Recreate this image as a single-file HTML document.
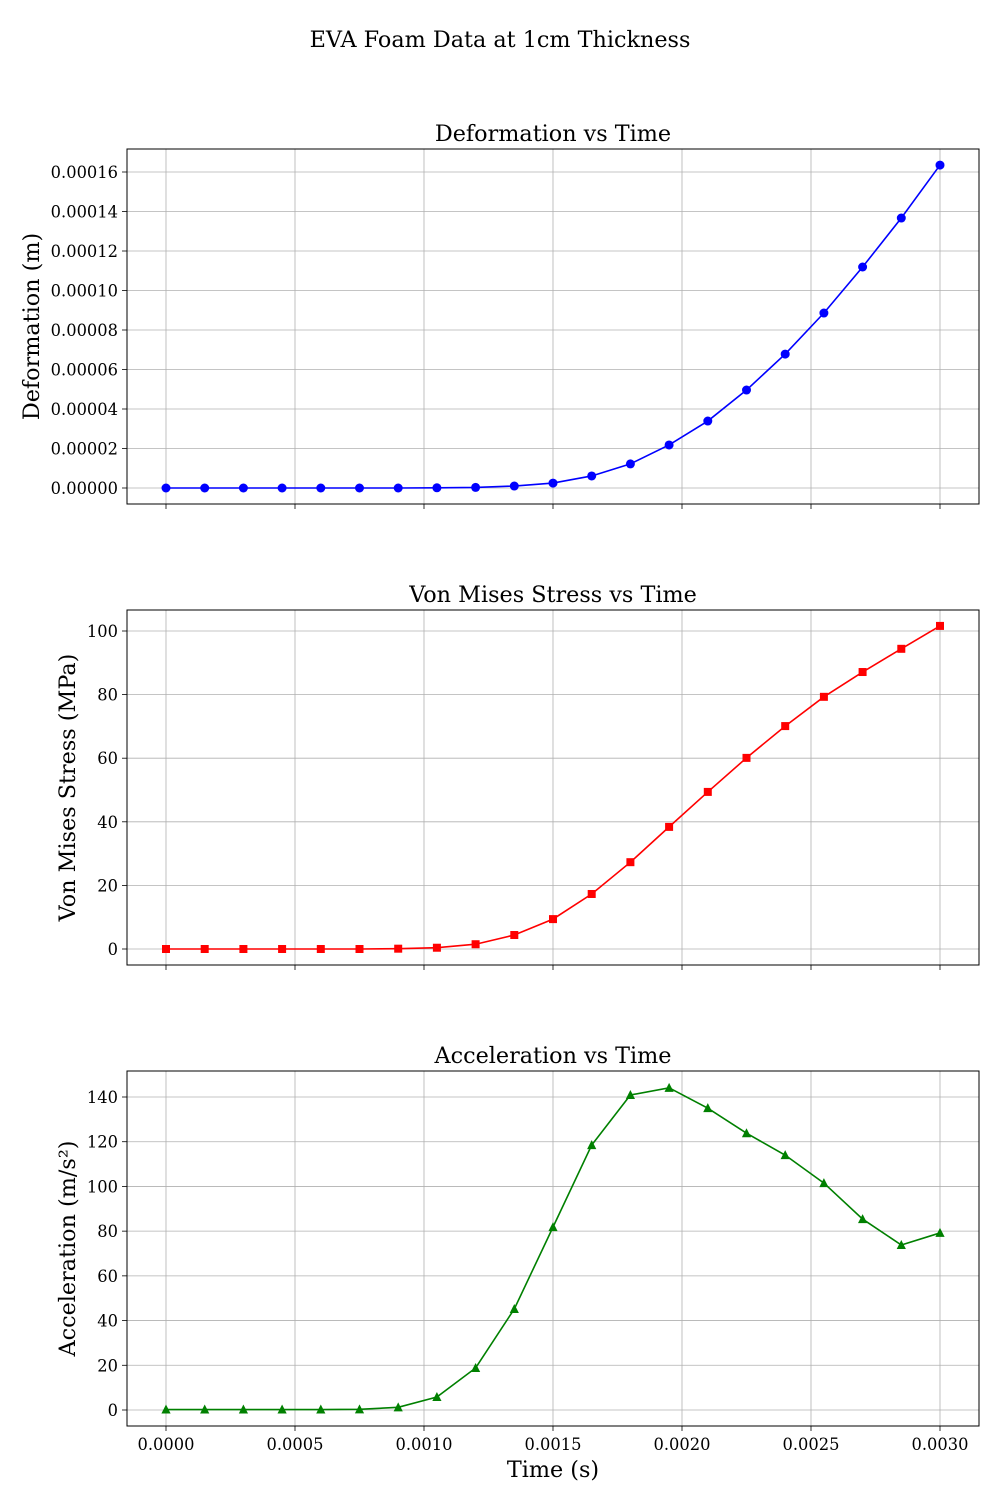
<!DOCTYPE html>
<html><head><meta charset="utf-8"><style>
body{margin:0;background:#fff;}
svg text{font-family:"DejaVu Serif","Liberation Serif",serif;fill:#000;}
</style></head><body>
<svg id="chart" width="1000" height="1500" viewBox="0 0 1000 1500" xmlns="http://www.w3.org/2000/svg">
<text x="500" y="47" text-anchor="middle" font-size="22.3">EVA Foam Data at 1cm Thickness</text>
</svg>
<script>
const times = [0,0.00015,0.0003,0.00045,0.0006,0.00075,0.0009,0.00105,0.0012,0.00135,0.0015,0.00165,0.0018,0.00195,0.0021,0.00225,0.0024,0.00255,0.0027,0.00285,0.003];
const deformation = [0,0,0,0,0,0,0,0.0000001,0.0000003,0.000001,0.0000025,0.0000061,0.0000122,0.0000218,0.0000339,0.0000496,0.0000678,0.0000886,0.0001119,0.0001367,0.0001635];
const stress = [0,0,0,0,0,0,0.1,0.4,1.5,4.4,9.4,17.3,27.3,38.4,49.4,60.1,70.1,79.3,87.1,94.4,101.6];
const accel = [0.2,0.2,0.2,0.2,0.2,0.3,1.2,5.8,18.8,45.2,81.8,118.5,140.9,144.1,135,123.8,114,101.5,85.4,73.8,79.2];
const xTicks = [0,0.0005,0.001,0.0015,0.002,0.0025,0.003];
const xTickLabels = ["0.0000","0.0005","0.0010","0.0015","0.0020","0.0025","0.0030"];
const defTicks = [0,0.00002,0.00004,0.00006,0.00008,0.0001,0.00012,0.00014,0.00016];
const defTickLabels = ["0.00000","0.00002","0.00004","0.00006","0.00008","0.00010","0.00012","0.00014","0.00016"];
const stressTicks = [0,20,40,60,80,100];
const accelTicks = [0,20,40,60,80,100,120,140];

const NS="http://www.w3.org/2000/svg";
const svg=document.getElementById('chart');
function mk(tag,attrs,parent){const e=document.createElementNS(NS,tag);for(const k in attrs)e.setAttribute(k,attrs[k]);(parent||svg).appendChild(e);return e;}
const L=127,R=979;
const xs=t=>166+(t/0.003)*774;
const TF=16.3, BF=22.3;

function panel(cfg){
  const g=mk('g',{});
  
  
  const T=cfg.top,B=cfg.top+355;
  const ys=v=>cfg.y0px+(v-cfg.v0)*(cfg.y1px-cfg.y0px)/(cfg.v1-cfg.v0);
  xTicks.forEach((t,i)=>{
    const l=mk('line',{x1:xs(t),x2:xs(t),y1:T,y2:B,stroke:'#b0b0b0','stroke-width':0.8},g);
    
    
    mk('line',{x1:xs(t),x2:xs(t),y1:B,y2:B+5,stroke:'#000','stroke-width':0.8},g);
    if(cfg.showX){
      const tx=mk('text',{x:xs(t),y:B+24,'text-anchor':'middle','font-size':TF},g);
      tx.textContent=xTickLabels[i];
      
      
    }
  });
  cfg.ticks.forEach((v,i)=>{
    const y=ys(v);
    const l=mk('line',{x1:L,x2:R,y1:y,y2:y,stroke:'#b0b0b0','stroke-width':0.8},g);
    
    
    mk('line',{x1:L-5,x2:L,y1:y,y2:y,stroke:'#000','stroke-width':0.8},g);
    const tx=mk('text',{x:L-9,y:y+6,'text-anchor':'end','font-size':TF},g);
    tx.textContent=cfg.labels[i];
    
    
  });
  const pts=times.map((t,i)=>xs(t)+','+ys(cfg.data[i])).join(' ');
  const pl=mk('polyline',{points:pts,fill:'none',stroke:cfg.color,'stroke-width':1.6},g);
  
  
  times.forEach((t,i)=>{
    const x=xs(t),y=ys(cfg.data[i]);let m;
    if(cfg.marker==='o') m=mk('circle',{cx:x,cy:y,r:4.5,fill:cfg.color},g);
    else if(cfg.marker==='s') m=mk('rect',{x:x-4,y:y-4,width:8,height:8,fill:cfg.color},g);
    else m=mk('polygon',{points:`${x},${y-5} ${x-4.6},${y+4} ${x+4.6},${y+4}`,fill:cfg.color},g);
    
    
  });
  const fr=mk('rect',{x:L,y:T,width:R-L,height:B-T,fill:'none',stroke:'#000','stroke-width':1},g);
  
  
  const tt=mk('text',{x:(L+R)/2,y:T-8,'text-anchor':'middle','font-size':BF},g);
  tt.textContent=cfg.title;
  
  
  const yl=mk('text',{x:0,y:0,'text-anchor':'middle','font-size':BF,transform:`translate(${cfg.ylx},${(T+B)/2}) rotate(-90)`},g);
  yl.textContent=cfg.ylabel;
  
  
}
panel({name:'deformation',top:149,data:deformation,ticks:defTicks,labels:defTickLabels,v0:0,v1:0.00016,y0px:488,y1px:172,color:'#0000ff',marker:'o',title:'Deformation vs Time',ylabel:'Deformation (m)',ylx:39,showX:false});
panel({name:'stress',top:610,data:stress,ticks:stressTicks,labels:stressTicks.map(String),v0:0,v1:100,y0px:949,y1px:631,color:'#ff0000',marker:'s',title:'Von Mises Stress vs Time',ylabel:'Von Mises Stress (MPa)',ylx:75,showX:false});
panel({name:'acceleration',top:1071,data:accel,ticks:accelTicks,labels:accelTicks.map(String),v0:0,v1:140,y0px:1410,y1px:1097,color:'#008000',marker:'^',title:'Acceleration vs Time',ylabel:'Acceleration (m/s²)',ylx:75,showX:true});
const xl=mk('text',{x:553,y:1477,'text-anchor':'middle','font-size':BF});
xl.textContent='Time (s)';


</script>
</body></html>
